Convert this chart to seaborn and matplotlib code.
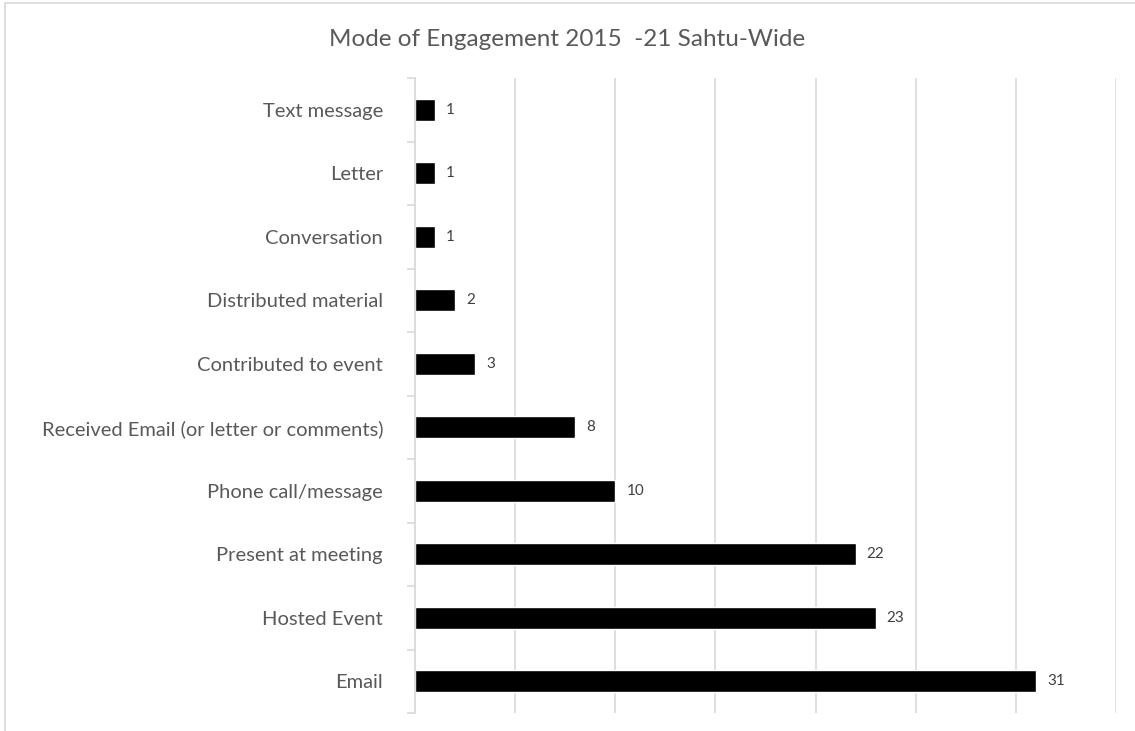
import matplotlib
matplotlib.use("Agg")
import matplotlib.pyplot as plt
import seaborn as sns
import pandas as pd
import numpy as np
from matplotlib.lines import Line2D

# Engagement modes, listed from top to bottom
modes = [
    "Text message",
    "Letter",
    "Conversation",
    "Distributed material",
    "Contributed to event",
    "Received Email (or letter or comments)",
    "Phone call/message",
    "Present at meeting",
    "Hosted Event",
    "Email",
]
counts = [1, 1, 1, 2, 3, 8, 10, 22, 23, 31]

title = "Mode of Engagement 2015  -21 Sahtu-Wide"

df = pd.DataFrame({"mode": modes, "count": counts})

sns.set_theme(style="white")
plt.rcParams["font.family"] = ["Lato", "DejaVu Sans"]

fig = plt.figure(figsize=(11.35, 7.31), dpi=100)
ax = fig.add_axes([415 / 1135, 1 - 713 / 731, (1116 - 415) / 1135, (713 - 78) / 731])

sns.barplot(data=df, x="count", y="mode", orient="h", color="black",
            width=0.35, saturation=1, ax=ax)

ax.set_xlim(0, 35)
ax.set_ylim(len(modes) - 0.5, -0.5)
ax.set_xticks(np.arange(0, 36, 5))
ax.set_xticklabels([])
ax.tick_params(axis="x", length=0)
ax.grid(axis="x", color="#d9d9d9", linewidth=1.2)
ax.set_axisbelow(True)

for s in ["top", "right", "bottom"]:
    ax.spines[s].set_visible(False)
ax.spines["left"].set_color("#d9d9d9")
ax.spines["left"].set_linewidth(1.2)

# category labels, with small ticks between categories
ax.tick_params(axis="y", which="major", length=0, pad=23, labelsize=14.5,
               labelcolor="#595959")
ax.set_yticks(np.arange(-0.5, len(modes), 1.0), minor=True)
ax.tick_params(axis="y", which="minor", length=6, width=1.2, color="#d9d9d9",
               left=True)
ax.set_xlabel("")
ax.set_ylabel("")

# value labels
for i, v in enumerate(counts):
    ax.text(v + 0.55, i, str(v), va="center", ha="left", fontsize=11,
            color="#404040")

fig.text(0.5, 1 - 39 / 731, title, ha="center", va="center", fontsize=17.5,
         color="#595959")

# outer frame of the chart area
fig.add_artist(Line2D([5 / 1135, 1], [1 - 3 / 731, 1 - 3 / 731],
                      transform=fig.transFigure, color="#d9d9d9", linewidth=1.2))
fig.add_artist(Line2D([5 / 1135, 5 / 1135], [0, 1 - 3 / 731],
                      transform=fig.transFigure, color="#d9d9d9", linewidth=1.2))

fig.savefig("out.png", dpi=100)
